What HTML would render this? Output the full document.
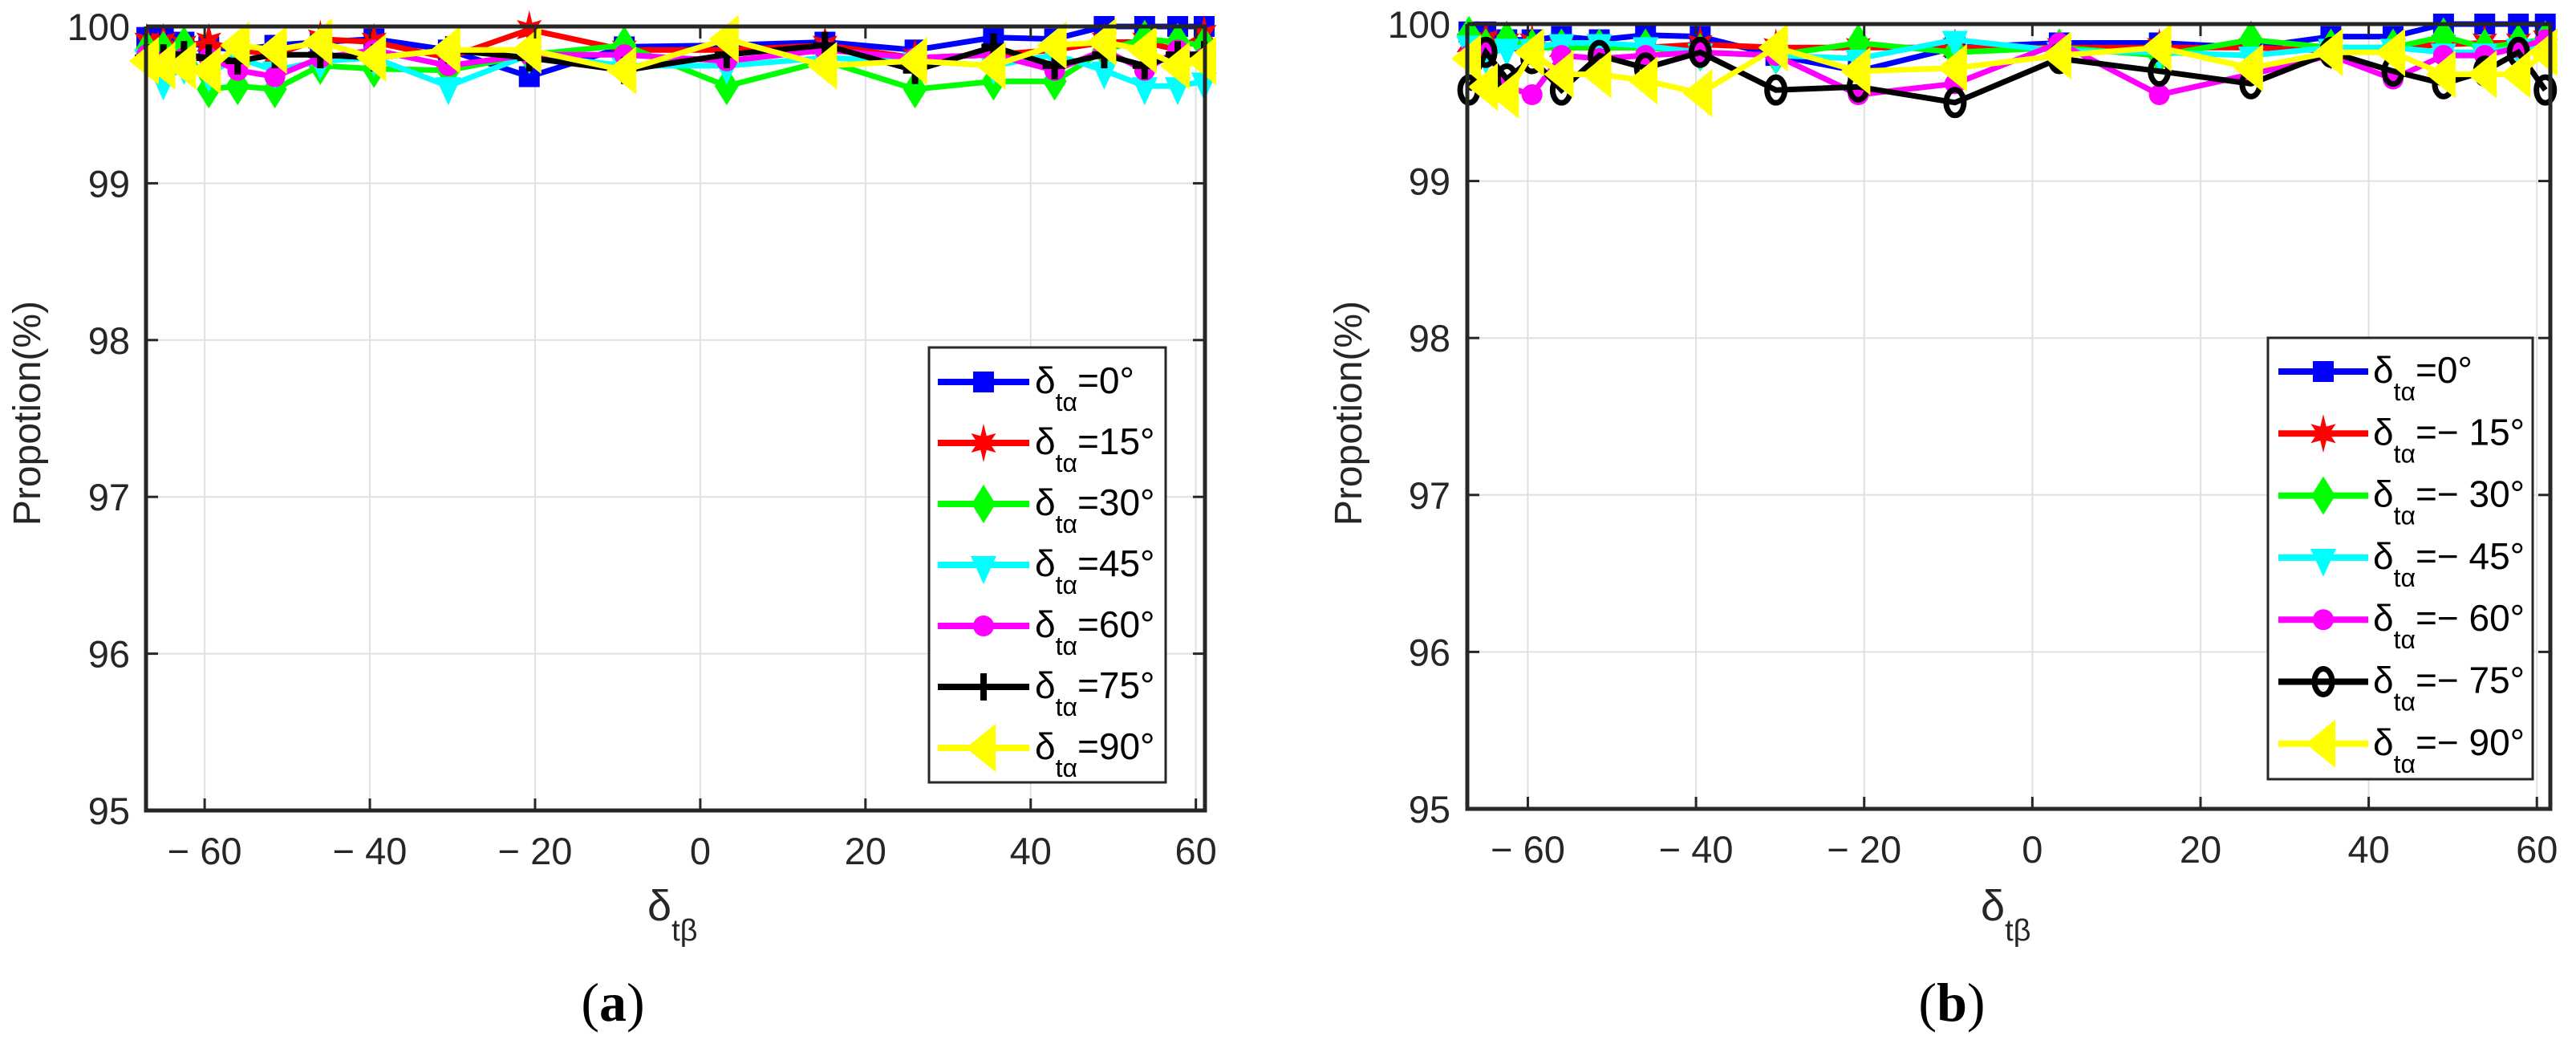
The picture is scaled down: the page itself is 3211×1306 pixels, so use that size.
<!DOCTYPE html>
<html><head><meta charset="utf-8">
<style>
html,body{margin:0;padding:0;background:#fff;}
svg{display:block;font-family:"Liberation Sans",Arial,sans-serif;}
</style></head>
<body>
<svg id="fig" width="3211" height="1306" viewBox="0 0 3211 1306" xmlns="http://www.w3.org/2000/svg">
<rect width="3211" height="1306" fill="#fff"/>
<g id="panelA"></g>
<g id="panelB"></g>
</svg>
<script>
const xValues = [-67,-65,-62.5,-59.5,-56,-51.5,-46,-39.5,-30.5,-20.7,-9.2,3.2,15.1,26,35.5,42.9,48.9,53.8,57.8,61];
const xTicks = [-60,-40,-20,0,20,40,60];
const xTickLabels = ["\u2212 60","\u2212 40","\u2212 20","0","20","40","60"];
const yTicks = [95,96,97,98,99,100];
const yTickLabels = ["95","96","97","98","99","100"];

const seriesColors = ["#0000ff","#ff0000","#00ff00","#00ffff","#ff00ff","#000000","#ffff00"];
const labelsA = ["=0°","=15°","=30°","=45°","=60°","=75°","=90°"];
const labelsB = ["=0°","=\u2212 15°","=\u2212 30°","=\u2212 45°","=\u2212 60°","=\u2212 75°","=\u2212 90°"];
const markersA = ["square","star","diamond","down","circle","plus","left"];
const markersB = ["square","star","diamond","down","circle","ocircle","left"];

const a0 = [99.93,99.93,99.9,99.87,99.85,99.88,99.9,99.92,99.85,99.68,99.87,99.88,99.9,99.85,99.93,99.92,100,100,100,100];
const a1 = [99.9,99.9,99.88,99.9,99.85,99.82,99.92,99.9,99.8,99.98,99.85,99.85,99.88,99.8,99.82,99.85,99.9,99.9,99.85,99.95];
const a2 = [99.85,99.85,99.88,99.6,99.62,99.6,99.75,99.73,99.72,99.82,99.88,99.62,99.78,99.6,99.65,99.65,99.85,99.92,99.9,99.88];
const a3 = [99.8,99.65,99.75,99.7,99.8,99.72,99.78,99.8,99.62,99.82,99.75,99.75,99.8,99.78,99.75,99.82,99.72,99.62,99.62,99.65];
const a4 = [99.82,99.78,99.8,99.8,99.72,99.68,99.8,99.85,99.75,99.82,99.82,99.78,99.85,99.8,99.82,99.72,99.85,99.72,99.85,99.8];
const a5 = [99.8,99.8,99.82,99.8,99.78,99.82,99.82,99.8,99.85,99.8,99.72,99.82,99.88,99.72,99.87,99.75,99.82,99.75,99.82,99.82];
const a6 = [99.78,99.75,99.75,99.72,99.88,99.85,99.9,99.8,99.85,99.85,99.72,99.92,99.75,99.78,99.75,99.88,99.9,99.85,99.75,99.78];

const b0 = [99.95,99.95,99.9,99.9,99.92,99.9,99.93,99.92,99.8,99.7,99.85,99.88,99.88,99.85,99.92,99.92,100,100,100,100];
const b1 = [99.88,99.9,99.88,99.88,99.85,99.85,99.85,99.87,99.85,99.85,99.85,99.85,99.85,99.85,99.83,99.85,99.87,99.88,99.88,99.9];
const b2 = [99.93,99.85,99.9,99.85,99.85,99.85,99.85,99.82,99.8,99.88,99.82,99.85,99.8,99.9,99.85,99.85,99.92,99.85,99.88,99.9];
const b3 = [99.87,99.8,99.85,99.85,99.88,99.88,99.86,99.82,99.8,99.78,99.9,99.83,99.82,99.8,99.85,99.85,99.82,99.82,99.85,99.85];
const b4 = [99.8,99.85,99.6,99.55,99.8,99.78,99.8,99.82,99.8,99.55,99.62,99.88,99.55,99.68,99.8,99.65,99.8,99.8,99.85,99.9];
const b5 = [99.58,99.82,99.65,99.78,99.58,99.8,99.72,99.82,99.58,99.6,99.5,99.78,99.7,99.62,99.82,99.7,99.62,99.7,99.82,99.58];
const b6 = [99.78,99.6,99.55,99.82,99.68,99.68,99.64,99.56,99.85,99.7,99.72,99.8,99.85,99.72,99.82,99.82,99.68,99.68,99.68,99.82];

const NS = "http://www.w3.org/2000/svg";
function mk(tag, attrs, parent){ const e=document.createElementNS(NS,tag); for(const k in attrs) e.setAttribute(k,attrs[k]); parent.appendChild(e); return e; }

function marker(type, cx, cy, color, parent){
  let e; const s=13;
  if(type==="square"){ e=mk("rect",{x:cx-s,y:cy-s,width:2*s,height:2*s,fill:color},parent); }
  else if(type==="circle"){ e=mk("circle",{cx:cx,cy:cy,r:s,fill:color},parent); }
  else if(type==="ocircle"){ e=mk("ellipse",{cx:cx,cy:cy,rx:11,ry:16,fill:"none",stroke:color,"stroke-width":7},parent); }
  else if(type==="diamond"){ e=mk("polygon",{points:`${cx},${cy-24} ${cx+15},${cy} ${cx},${cy+24} ${cx-15},${cy}`,fill:color},parent); }
  else if(type==="down"){ e=mk("polygon",{points:`${cx-16},${cy-11} ${cx+16},${cy-11} ${cx},${cy+24}`,fill:color},parent); }
  else if(type==="left"){ e=mk("polygon",{points:`${cx-22},${cy} ${cx+15},${cy-30} ${cx+15},${cy+30}`,fill:color},parent); }
  else if(type==="plus"){ e=mk("path",{d:`M${cx-15},${cy}H${cx+15}M${cx},${cy-17}V${cy+17}`,stroke:color,"stroke-width":8,fill:"none"},parent); }
  else {
    let p=[]; for(let i=0;i<12;i++){ const r=i%2?10:24; const a=-Math.PI/2+i*Math.PI/6; p.push((cx+r*Math.cos(a)*0.75).toFixed(1)+","+(cy+r*Math.sin(a)).toFixed(1)); }
    e=mk("polygon",{points:p.join(" "),fill:color},parent);
  }
  return e;
}

function drawPanel(g, cfg){
  const {L,R,T,B,xmin,xmax,series,labels,markers,leg,ylabX,ylabRight,xlabX,tagX,tag} = cfg;
  const xs = v => L + (v-xmin)/(xmax-xmin)*(R-L);
  const ys = v => B - (v-95)/5*(B-T);
  const grid = mk("g",{},g);
  
  
  xTicks.forEach(t=>{ mk("line",{x1:xs(t),x2:xs(t),y1:T,y2:B,stroke:"#e0e0e0","stroke-width":2},grid); });
  yTicks.forEach(t=>{ mk("line",{x1:L,x2:R,y1:ys(t),y2:ys(t),stroke:"#e0e0e0","stroke-width":2},grid); });
  series.forEach((data,si)=>{
    const sg = mk("g",{},g);
    
    
    const pts = data.map((v,i)=>xs(xValues[i]).toFixed(1)+","+ys(v).toFixed(1)).join(" ");
    const pl = mk("polyline",{points:pts,fill:"none",stroke:seriesColors[si],"stroke-width":7,"stroke-linejoin":"miter"},sg);
    
    
    data.forEach((v,i)=>{
      const m = marker(markers[si], xs(xValues[i]), ys(v), seriesColors[si], sg);
      
      
    });
  });
  const ax = mk("g",{},g);
  
  
  mk("path",{d:`M${L},${T}V${B}H${R}V${T}H${L}`,fill:"none",stroke:"#262626","stroke-width":5},ax);
  xTicks.forEach((t,i)=>{
    mk("line",{x1:xs(t),x2:xs(t),y1:B,y2:B-15,stroke:"#262626","stroke-width":3},ax);
    mk("line",{x1:xs(t),x2:xs(t),y1:T,y2:T+15,stroke:"#262626","stroke-width":3},ax);
    const tx = mk("text",{x:xs(t),y:B+67,"font-size":47,fill:"#262626","text-anchor":"middle"},ax);
    tx.textContent = xTickLabels[i];
    
    
  });
  yTicks.forEach((t,i)=>{
    mk("line",{x1:L,x2:L+15,y1:ys(t),y2:ys(t),stroke:"#262626","stroke-width":3},ax);
    mk("line",{x1:R,x2:R-15,y1:ys(t),y2:ys(t),stroke:"#262626","stroke-width":3},ax);
    const tx = mk("text",{x:ylabRight,y:ys(t)+17,"font-size":47,fill:"#262626","text-anchor":"end"},ax);
    tx.textContent = yTickLabels[i];
    
    
  });
  const yl = mk("text",{x:0,y:0,"font-size":48,fill:"#262626","text-anchor":"middle",transform:`translate(${ylabX},515) rotate(-90)`},g);
  yl.textContent = "Propotion(%)";
  
  
  const xl = mk("text",{x:xlabX,y:1147,"font-size":54,fill:"#262626","text-anchor":"start"},g);
  xl.innerHTML = 'δ<tspan font-size="38" dy="25">tβ</tspan>';
  
  
  const tg = mk("text",{x:tagX,y:1272,"font-size":68,fill:"#000","text-anchor":"middle","font-family":"Liberation Serif, serif"},g);
  tg.innerHTML = '(<tspan font-weight="bold">'+tag+'</tspan>)';
  
  
  const lg = mk("g",{},g);
  
  
  mk("rect",{x:leg.x,y:leg.y,width:leg.w,height:leg.h,fill:"#fff",stroke:"#262626","stroke-width":3},lg);
  labels.forEach((lab,i)=>{
    const cy = leg.y0 + i*leg.dy;
    const e = mk("g",{},lg);
    
    
    mk("line",{x1:leg.lx1,x2:leg.lx2,y1:cy,y2:cy,stroke:seriesColors[i],"stroke-width":8},e);
    marker(markers[i],(leg.lx1+leg.lx2)/2,cy,seriesColors[i],e);
    const t = mk("text",{x:leg.tx,y:cy+14,"font-size":46,fill:"#000"},e);
    t.innerHTML = 'δ<tspan font-size="32" dy="22">tα</tspan><tspan dy="-22">'+lab+'</tspan>';
  });
}

drawPanel(document.getElementById("panelA"),{
  L:182,R:1502,T:33,B:1010,xmin:-67.1,xmax:61.1,
  series:[a0,a1,a2,a3,a4,a5,a6],labels:labelsA,markers:markersA,
  leg:{x:1158,y:433,w:295,h:542,y0:476,dy:76,lx1:1169,lx2:1283,tx:1290},
  ylabX:50,ylabRight:162,xlabX:807,tagX:764,tag:"a"
});
drawPanel(document.getElementById("panelB"),{
  L:1829,R:3179,T:30,B:1008,xmin:-67.2,xmax:61.6,
  series:[b0,b1,b2,b3,b4,b5,b6],labels:labelsB,markers:markersB,
  leg:{x:2827,y:421,w:330,h:550,y0:463,dy:77.3,lx1:2840,lx2:2952,tx:2958},
  ylabX:1697,ylabRight:1808,xlabX:2469,tagX:2433,tag:"b"
});
</script>
</body></html>
